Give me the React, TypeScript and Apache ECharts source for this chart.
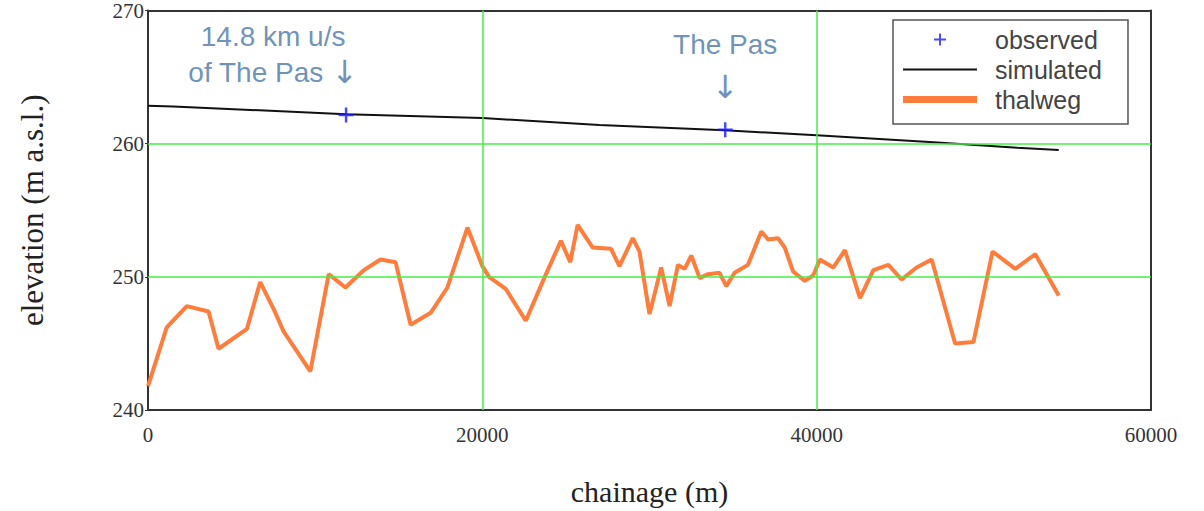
import React, { useEffect, useRef } from "react";
import * as echarts from "echarts";

// ---- data ----
const xTicks = [0, 20000, 40000, 60000];
const yTicks = [240, 250, 260, 270];
const gridX = [20000, 40000];
const gridY = [250, 260];

const thalwegX = [
  0, 1120, 2320, 3620, 4220, 5920, 6710, 7510, 8110, 9710,
  10810, 11810, 12910, 13910, 14810, 15710, 16910, 17910, 19110, 20000,
  20400, 21400, 22600, 23700, 24700, 25260, 25700, 26600, 27700, 28200,
  29000, 29400, 30000, 30700, 31200, 31700, 32100, 32500, 33000, 33500,
  34190, 34590, 35090, 35890, 36690, 37090, 37690, 38090, 38590, 39290,
  39790, 40190, 40990, 41690, 42590, 43390, 44290, 45080, 45980, 46880,
  48280, 49380, 50520, 51880, 53080, 54480,
];
const thalwegY = [
  241.8, 246.2, 247.8, 247.4, 244.6, 246.1, 249.6, 247.6, 245.9, 242.9,
  250.2, 249.2, 250.5, 251.3, 251.1, 246.4, 247.3, 249.2, 253.7, 250.8,
  250.0, 249.1, 246.7, 249.9, 252.7, 251.1, 253.9, 252.2, 252.1, 250.8,
  252.9, 251.9, 247.2, 250.7, 247.8, 250.9, 250.6, 251.6, 249.9, 250.2,
  250.3, 249.3, 250.3, 250.9, 253.4, 252.8, 252.9, 252.2, 250.4, 249.7,
  250.1, 251.3, 250.7, 252.0, 248.4, 250.5, 250.9, 249.8, 250.7, 251.3,
  245.0, 245.1, 251.9, 250.6, 251.7, 248.6,
];

const simX = [0, 1500, 11850, 20000, 27000, 34500, 40000, 47000, 52000, 54480];
const simY = [262.84, 262.8, 262.2, 261.93, 261.4, 261.0, 260.64, 260.1, 259.7, 259.53];

const obsX = [11850, 34530];
const obsY = [262.15, 261.05];
const obsLabels = ["14.8 km u/s\nof The Pas {a|\u2193}", "The Pas\n{a|\u2193}"];

const names = ["observed", "simulated", "thalweg"];

// ---- styles ----
const ORANGE = "#ff7d3c";
const BLUE = "#1a1aff";
const GREEN = "#44ee44";
const AXIS = "#333";
const LABEL = "#4a76a6";
const SERIF = "'Liberation Serif', 'Times New Roman', serif";
const SANS = "'Liberation Sans', Arial, sans-serif";

const labelCfg = [
  { offset: [-73, 0], lineHeight: 36, distance: 16, rich: { a: { fontSize: 32, lineHeight: 36, fontFamily: "'DejaVu Sans'", color: LABEL } } },
  { offset: [0, 0], lineHeight: 43, distance: 12, rich: { a: { fontSize: 32, lineHeight: 43, fontFamily: "'DejaVu Sans'", color: LABEL } } },
];

const plusPath = "path://M4.2,0L5.8,0L5.8,4.2L10,4.2L10,5.8L5.8,5.8L5.8,10L4.2,10L4.2,5.8L0,5.8L0,4.2L4.2,4.2Z";

export default function App() {
  const ref = useRef<HTMLDivElement>(null);

  useEffect(() => {
    const chart = echarts.init(ref.current!, null, { renderer: "svg" });
    const option: any = {
      animation: false,
      backgroundColor: "#fff",
      grid: { left: 148, top: 7, right: 53, bottom: 99, containLabel: false },
      xAxis: [
        {
          type: "value",
          min: xTicks[0],
          max: xTicks[xTicks.length - 1],
          interval: xTicks[1] - xTicks[0],
          position: "bottom",
          name: "chainage (m)",
          nameLocation: "middle",
          nameGap: 66,
          nameTextStyle: { fontFamily: SERIF, fontSize: 30, color: "#222" },
          axisLine: { show: true, onZero: false, lineStyle: { color: AXIS, width: 2 } },
          axisTick: { show: false },
          splitLine: { show: false },
          axisLabel: { fontFamily: SERIF, fontSize: 21, color: AXIS, margin: 14, formatter: (v: number) => String(v) },
        },
        {
          type: "value",
          min: xTicks[0],
          max: xTicks[xTicks.length - 1],
          interval: xTicks[1] - xTicks[0],
          position: "top",
          axisLine: { show: true, onZero: false, lineStyle: { color: AXIS, width: 2 } },
          axisTick: { show: false },
          splitLine: { show: false },
          axisLabel: { show: false },
        },
      ],
      yAxis: [
        {
          type: "value",
          min: yTicks[0],
          max: yTicks[yTicks.length - 1],
          interval: yTicks[1] - yTicks[0],
          position: "left",
          name: "elevation (m a.s.l.)",
          nameLocation: "middle",
          nameGap: 100,
          nameTextStyle: { fontFamily: SERIF, fontSize: 31, color: "#222" },
          axisLine: { show: true, onZero: false, lineStyle: { color: AXIS, width: 2 } },
          axisTick: { show: true, length: 3, lineStyle: { color: AXIS } },
          splitLine: { show: false },
          axisLabel: { fontFamily: SERIF, fontSize: 21, color: AXIS, margin: 4 },
        },
        {
          type: "value",
          min: yTicks[0],
          max: yTicks[yTicks.length - 1],
          interval: yTicks[1] - yTicks[0],
          position: "right",
          axisLine: { show: true, onZero: false, lineStyle: { color: AXIS, width: 2 } },
          axisTick: { show: false },
          splitLine: { show: false },
          axisLabel: { show: false },
        },
      ],
      legend: {
        orient: "vertical",
        left: 893,
        top: 20,
        padding: [7, 26, 12, 10],
        itemWidth: 74,
        itemHeight: 12,
        itemGap: 5,
        borderColor: "#555",
        borderWidth: 1.5,
        backgroundColor: "#fff",
        symbolKeepAspect: true,
        selectedMode: false,
        textStyle: {
          fontFamily: SANS,
          fontSize: 25,
          lineHeight: 25,
          color: "#444",
          padding: [0, 0, 0, 13],
        },
        data: [
          { name: names[0], icon: plusPath, itemStyle: { color: BLUE, borderWidth: 0 } },
          { name: names[1], icon: "path://M0,0L74,0L74,2L0,2Z", itemStyle: { color: "#111", borderWidth: 0 } },
          { name: names[2], icon: "path://M0,0L74,0L74,7L0,7Z", itemStyle: { color: ORANGE, borderWidth: 0 } },
        ],
      },
      series: [
        {
          type: "line",
          name: "grid",
          data: [],
          z: 1,
          silent: true,
          markLine: {
            silent: true,
            symbol: "none",
            label: { show: false },
            lineStyle: { color: GREEN, width: 1.5, type: "solid" },
            data: [
              ...gridX.map((v) => ({ xAxis: v })),
              ...gridY.map((v) => ({ yAxis: v })),
            ],
          },
        },
        {
          type: "line",
          name: names[2],
          z: 2,
          data: thalwegX.map((x, i) => [x, thalwegY[i]]),
          showSymbol: false,
          symbol: "none",
          color: ORANGE,
          lineStyle: { color: ORANGE, width: 4 },
        },
        {
          type: "line",
          name: names[1],
          z: 3,
          data: simX.map((x, i) => [x, simY[i]]),
          showSymbol: false,
          symbol: "none",
          color: "#111",
          lineStyle: { color: "#111", width: 2 },
        },
        {
          type: "scatter",
          name: names[0],
          z: 4,
          symbol: "path://M5,0L5,10M0,5L10,5",
          symbolSize: 15,
          color: BLUE,
          itemStyle: { color: "rgba(0,0,0,0)", borderColor: BLUE, borderWidth: 2.5 },
          label: {
            show: true,
            position: "top",
            fontFamily: SANS,
            fontSize: 28,
            color: LABEL,
            align: "center",
            formatter: (p: any) => obsLabels[p.dataIndex],
          },
          data: obsX.map((x, i) => ({
            value: [x, obsY[i]],
            label: labelCfg[i],
          })),
        },
      ],
    };
    chart.setOption(option);
    return () => chart.dispose();
  }, []);

  return (
    <div
      ref={ref}
      style={{ position: "fixed", left: 0, top: 0, width: 1204, height: 511, background: "#fff" }}
    />
  );
}
